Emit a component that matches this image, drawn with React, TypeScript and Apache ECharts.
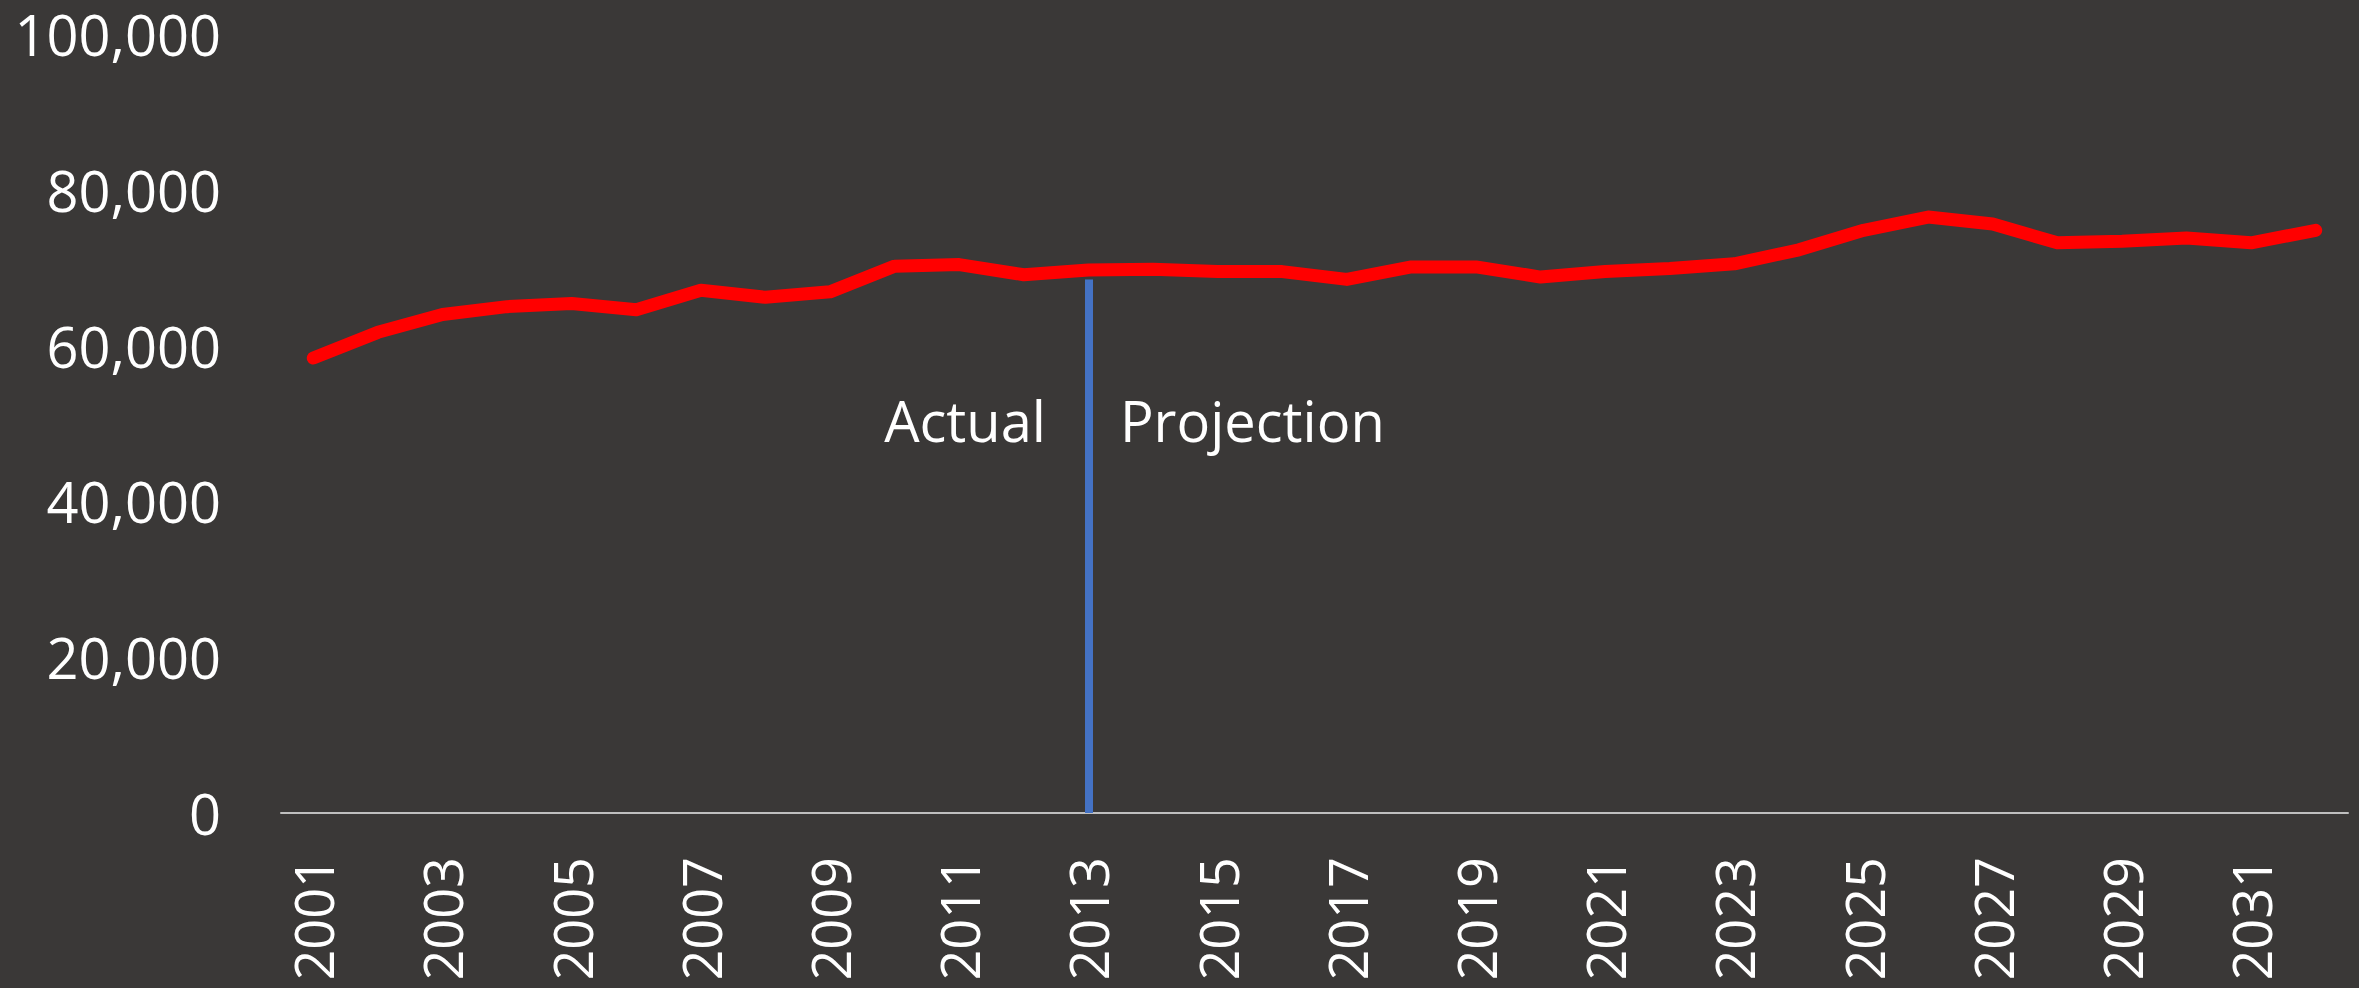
import React, { useEffect, useRef } from "react";
import * as echarts from "echarts";

const YEARS: string[] = [
  "2001","2002","2003","2004","2005","2006","2007","2008","2009","2010",
  "2011","2012","2013","2014","2015","2016","2017","2018","2019","2020",
  "2021","2022","2023","2024","2025","2026","2027","2028","2029","2030",
  "2031","2032",
];

const VALUES: number[] = [
  58400, 61700, 64000, 65000, 65400, 64600, 67100, 66200, 66900, 70200,
  70400, 69100, 69700, 69800, 69500, 69500, 68500, 70100, 70100, 68800,
  69500, 69900, 70500, 72300, 74800, 76500, 75600, 73200, 73400, 73800,
  73200, 74800,
];

const Y_TICKS = { min: 0, max: 100000, interval: 20000 };

const DIVIDER_YEAR = "2013";
const DIVIDER_TOP = 68500;
const LABEL_LEVEL = 50500;
const LEFT_LABEL = "Actual";
const RIGHT_LABEL = "Projection";

const BG = "#3a3837";
const FONT = "'Open Sans', 'Noto Sans', sans-serif";

export default function App() {
  const ref = useRef<HTMLDivElement>(null);

  useEffect(() => {
    document.body.style.margin = "0";
    document.body.style.background = BG;
    if (!ref.current) return;
    const chart = echarts.init(ref.current, undefined, { renderer: "svg" });
    const annotLabel = (text: string, position: string, distance: number) => ({
      show: true,
      position,
      distance,
      formatter: text,
      color: "#ffffff",
      opacity: 1,
      textBorderWidth: 0,
      fontSize: 56,
      fontFamily: FONT,
    });
    chart.setOption({
      animation: false,
      backgroundColor: BG,
      grid: { left: 281, right: 11, top: 34, bottom: 175, containLabel: false },
      xAxis: {
        type: "category",
        data: YEARS,
        boundaryGap: true,
        axisLine: { show: true, lineStyle: { color: "#bfbfbf", width: 2 } },
        axisTick: { show: false },
        axisLabel: {
          interval: 1,
          rotate: 90,
          margin: 44,
          color: "#ffffff",
          fontSize: 54,
          fontFamily: FONT,
        },
        splitLine: { show: false },
      },
      yAxis: {
        type: "value",
        min: Y_TICKS.min,
        max: Y_TICKS.max,
        interval: Y_TICKS.interval,
        axisLine: { show: false },
        axisTick: { show: false },
        splitLine: { show: false },
        axisLabel: {
          margin: 60,
          color: "#ffffff",
          fontSize: 56,
          lineHeight: 56,
          fontFamily: FONT,
          formatter: (v: number) => v.toLocaleString("en-US"),
        },
      },
      series: [
        {
          type: "line",
          data: VALUES,
          showSymbol: false,
          symbol: "none",
          z: 3,
          lineStyle: { color: "#ff0000", width: 13, cap: "round", join: "round" },
          markLine: {
            silent: true,
            symbol: "none",
            label: { show: false },
            lineStyle: { color: "#4472c4", width: 8, type: "solid" },
            data: [
              [
                { coord: [DIVIDER_YEAR, 0] },
                { coord: [DIVIDER_YEAR, DIVIDER_TOP] },
              ],
            ],
          },
        },
        {
          type: "scatter",
          silent: true,
          data: [[DIVIDER_YEAR, LABEL_LEVEL]],
          symbolSize: 1,
          itemStyle: { color: "#ffffff", opacity: 0 },
          label: annotLabel(LEFT_LABEL, "left", 42),
        },
        {
          type: "scatter",
          silent: true,
          data: [[DIVIDER_YEAR, LABEL_LEVEL]],
          symbolSize: 1,
          itemStyle: { color: "#ffffff", opacity: 0 },
          label: annotLabel(RIGHT_LABEL, "right", 31),
        },
      ],
    });
    return () => chart.dispose();
  }, []);

  return <div ref={ref} style={{ width: 2359, height: 988, background: BG }} />;
}
